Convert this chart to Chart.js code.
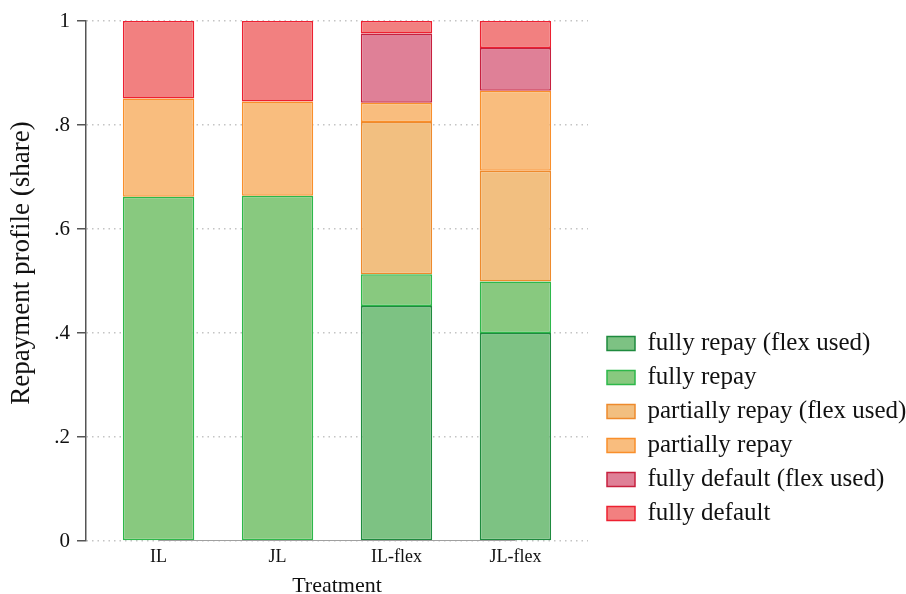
<!DOCTYPE html>
<html>
<head>
<meta charset="utf-8">
<script src="https://cdn.jsdelivr.net/npm/chart.js@4/dist/chart.umd.min.js"></script>
<style>
  html, body { margin: 0; padding: 0; background: #fff; }
  #wrap { width: 906px; height: 594px; position: relative; }
</style>
</head>
<body>
<div id="wrap"><canvas id="c"></canvas></div>
<script>
// Treatment arms
const treatments = ['IL', 'JL', 'IL-flex', 'JL-flex'];

// Repayment profile shares per arm (stacked from bottom to top)
const fullyRepayFlex     = [0,     0,     0.452, 0.400];
const fullyRepay         = [0.662, 0.664, 0.061, 0.099];
const partiallyRepayFlex = [0,     0,     0.293, 0.213];
const partiallyRepay     = [0.189, 0.181, 0.037, 0.154];
const fullyDefaultFlex   = [0,     0,     0.133, 0.082];
const fullyDefault       = [0.149, 0.155, 0.024, 0.052];

// Zero line running under the bars
const baseline = [0, 0, 0, 0];

// Y-axis tick values
const yTicks = [0, 0.2, 0.4, 0.6, 0.8, 1];

const serif = "'Liberation Serif', 'Times New Roman', serif";

function points(values) {
  return values.map((v, i) => ({ x: i + 1, y: v }));
}

function barSet(label, values, fill, border) {
  return {
    label,
    data: points(values),
    backgroundColor: fill,
    borderColor: border,
    borderWidth: 1.5,
    borderSkipped: false,
    categoryPercentage: 1,
    barPercentage: 0.6
  };
}

const datasets = [
  barSet('fully repay (flex used)',     fullyRepayFlex,     '#7dc283', '#1e8a3e'),
  barSet('fully repay',                 fullyRepay,         '#88c97f', '#2db84a'),
  barSet('partially repay (flex used)', partiallyRepayFlex, '#f2bf80', '#ee8a2c'),
  barSet('partially repay',             partiallyRepay,     '#f9bd7e', '#f98f2b'),
  barSet('fully default (flex used)',   fullyDefaultFlex,   '#df8097', '#c7203f'),
  barSet('fully default',               fullyDefault,       '#f28080', '#ed2030'),
  {
    type: 'line',
    label: '_baseline',
    data: points(baseline),
    borderColor: '#a0a0a0',
    borderWidth: 2,
    pointRadius: 0,
    order: -1
  }
];

// Nudges the legend block up and right so it sits beside the lower half of the plot
const legendShift = {
  id: 'legendShift',
  afterLayout(chart) {
    const lg = chart.legend;
    lg.top -= 6;
    lg.bottom -= 6;
    lg.left += 2;
    lg.right += 2;
  }
};

// Raises the y-axis title slightly above the middle of the axis
const yTitleShift = {
  id: 'yTitleShift',
  beforeDraw(chart) {
    const scale = chart.scales.y;
    if (scale.$titleShifted) return;
    const drawTitle = scale.drawTitle;
    scale.drawTitle = function () {
      this.ctx.save();
      this.ctx.translate(0, -18);
      drawTitle.call(this);
      this.ctx.restore();
    };
    scale.$titleShifted = true;
  }
};

new Chart(document.getElementById('c'), {
  type: 'bar',
  data: { datasets },
  plugins: [legendShift, yTitleShift],
  options: {
    responsive: true,
    maintainAspectRatio: false,
    animation: false,
    layout: { padding: { top: 21, left: 0, right: 0, bottom: 0 } },
    plugins: {
      tooltip: { enabled: false },
      legend: {
        position: 'right',
        align: 'end',
        fullSize: false,
        maxWidth: 310,
        labels: {
          filter: item => !item.text.startsWith('_'),
          boxWidth: 28,
          boxHeight: 14,
          padding: 9,
          color: '#111',
          font: { family: serif, size: 25 }
        }
      }
    },
    scales: {
      x: {
        type: 'linear',
        stacked: true,
        offset: false,
        min: 0.39,
        max: 4.61,
        grid: { display: false, drawTicks: false },
        border: { display: false },
        afterBuildTicks(scale) {
          scale.ticks = treatments.map((_, i) => ({ value: i + 1 }));
        },
        afterFit(scale) { scale.height = 53; },
        ticks: {
          padding: 5,
          color: '#111',
          font: { family: serif, size: 18 },
          callback: v => treatments[Math.round(v) - 1] || ''
        },
        title: {
          display: true,
          text: 'Treatment',
          color: '#111',
          font: { family: serif, size: 22, lineHeight: 1 },
          padding: { top: 0, bottom: -3 }
        }
      },
      y: {
        type: 'linear',
        stacked: true,
        min: 0,
        max: 1,
        afterBuildTicks(scale) {
          scale.ticks = yTicks.map(v => ({ value: v }));
        },
        afterFit(scale) { scale.width = 86; },
        grid: {
          color: '#c4c4c4',
          lineWidth: 1.5,
          tickColor: '#555',
          tickWidth: 1.5,
          tickLength: 9,
          tickBorderDash: [1, 0]
        },
        border: { display: true, color: '#555', width: 1.5, dash: [1.5, 4] },
        ticks: {
          padding: 7,
          color: '#111',
          font: { family: serif, size: 21 },
          callback: v => {
            const s = Number(v).toFixed(1);
            if (s === '0.0') return '0';
            if (s === '1.0') return '1';
            return s.replace(/^0/, '');
          }
        },
        title: {
          display: true,
          text: 'Repayment profile (share)',
          color: '#111',
          font: { family: serif, size: 27, lineHeight: 1.1 },
          padding: { top: 7, bottom: 0 }
        }
      },
      edge: {
        position: 'right',
        display: true,
        grid: { display: false },
        border: { display: false },
        ticks: { display: false },
        afterFit(scale) { scale.width = 8; }
      }
    }
  }
});
</script>
</body>
</html>
